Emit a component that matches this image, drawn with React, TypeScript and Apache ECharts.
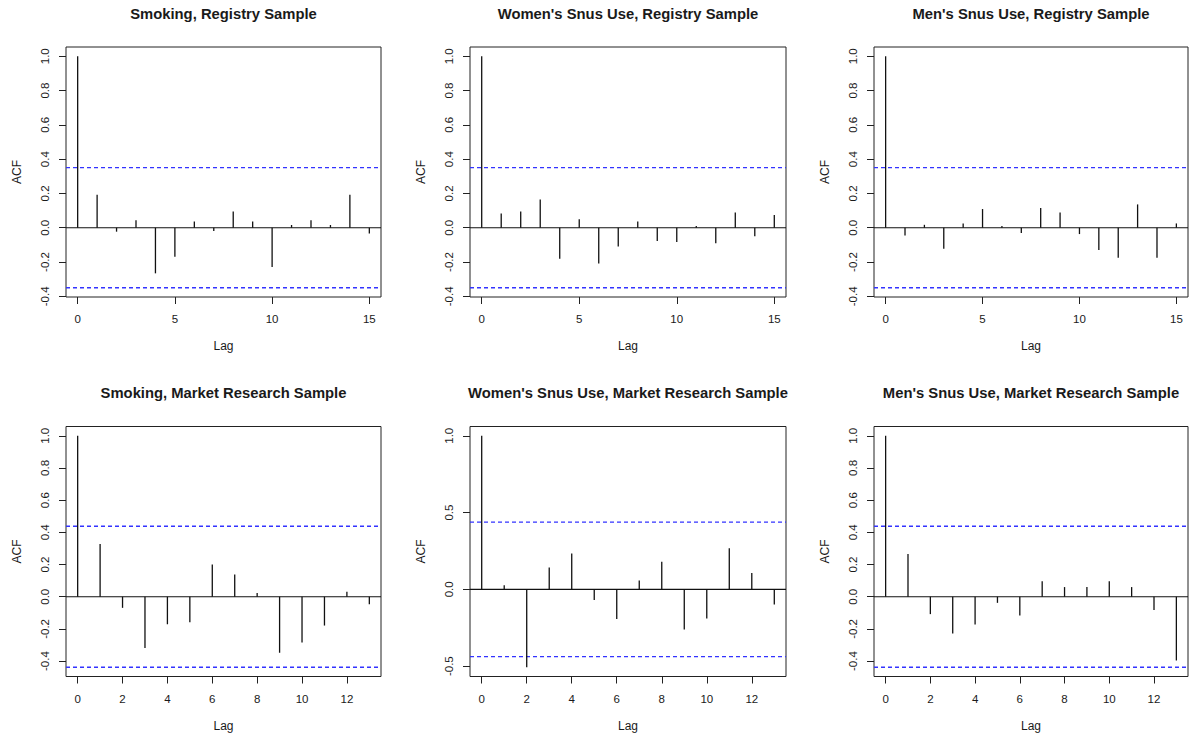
import React, { useEffect, useRef } from "react";
import * as echarts from "echarts";

// ---------- data ----------
const TITLES = [
  "Smoking, Registry Sample",
  "Women's Snus Use, Registry Sample",
  "Men's Snus Use, Registry Sample",
  "Smoking, Market Research Sample",
  "Women's Snus Use, Market Research Sample",
  "Men's Snus Use, Market Research Sample",
];

const LAGS_REGISTRY = [0, 1, 2, 3, 4, 5, 6, 7, 8, 9, 10, 11, 12, 13, 14, 15];
const LAGS_MARKET = [0, 1, 2, 3, 4, 5, 6, 7, 8, 9, 10, 11, 12, 13];

const ACF_SMOKING_REGISTRY = [1.0, 0.192, -0.023, 0.043, -0.266, -0.169, 0.037, -0.019, 0.095, 0.037, -0.229, 0.016, 0.043, 0.016, 0.192, -0.033];
const ACF_WOMEN_REGISTRY = [1.0, 0.083, 0.095, 0.165, -0.181, 0.049, -0.208, -0.109, 0.037, -0.078, -0.083, 0.01, -0.091, 0.089, -0.049, 0.074];
const ACF_MEN_REGISTRY = [1.0, -0.045, 0.017, -0.122, 0.025, 0.109, 0.01, -0.031, 0.115, 0.089, -0.037, -0.13, -0.175, 0.136, -0.175, 0.025];
const ACF_SMOKING_MARKET = [1.0, 0.327, -0.069, -0.319, -0.171, -0.158, 0.2, 0.138, 0.023, -0.348, -0.285, -0.179, 0.031, -0.046];
const ACF_WOMEN_MARKET = [1.0, 0.026, -0.507, 0.143, 0.233, -0.07, -0.193, 0.057, 0.18, -0.261, -0.189, 0.267, 0.107, -0.098];
const ACF_MEN_MARKET = [1.0, 0.265, -0.108, -0.229, -0.173, -0.038, -0.117, 0.096, 0.06, 0.06, 0.096, 0.06, -0.083, -0.396];

const CLIM_REGISTRY = 0.35;
const CLIM_MARKET = 0.438;

const X_TICKS_REGISTRY = [0, 5, 10, 15];
const X_TICKS_MARKET = [0, 2, 4, 6, 8, 10, 12];
const Y_TICKS_FINE = [-0.4, -0.2, 0, 0.2, 0.4, 0.6, 0.8, 1.0];
const Y_TICKS_COARSE = [-0.5, 0, 0.5, 1.0];

const PANELS = [
  { title: TITLES[0], lags: LAGS_REGISTRY, acf: ACF_SMOKING_REGISTRY, clim: CLIM_REGISTRY, xTicks: X_TICKS_REGISTRY, yTicks: Y_TICKS_FINE },
  { title: TITLES[1], lags: LAGS_REGISTRY, acf: ACF_WOMEN_REGISTRY, clim: CLIM_REGISTRY, xTicks: X_TICKS_REGISTRY, yTicks: Y_TICKS_FINE },
  { title: TITLES[2], lags: LAGS_REGISTRY, acf: ACF_MEN_REGISTRY, clim: CLIM_REGISTRY, xTicks: X_TICKS_REGISTRY, yTicks: Y_TICKS_FINE },
  { title: TITLES[3], lags: LAGS_MARKET, acf: ACF_SMOKING_MARKET, clim: CLIM_MARKET, xTicks: X_TICKS_MARKET, yTicks: Y_TICKS_FINE },
  { title: TITLES[4], lags: LAGS_MARKET, acf: ACF_WOMEN_MARKET, clim: CLIM_MARKET, xTicks: X_TICKS_MARKET, yTicks: Y_TICKS_COARSE },
  { title: TITLES[5], lags: LAGS_MARKET, acf: ACF_MEN_MARKET, clim: CLIM_MARKET, xTicks: X_TICKS_MARKET, yTicks: Y_TICKS_FINE },
];

// ---------- layout ----------
const BOXES = [
  { left: 66, top: 47, width: 315, height: 250 },
  { left: 470, top: 47, width: 316, height: 250 },
  { left: 874, top: 47, width: 314, height: 250 },
  { left: 66, top: 426.5, width: 315, height: 250 },
  { left: 470, top: 426.5, width: 316, height: 250 },
  { left: 874, top: 426.5, width: 314, height: 250 },
];

const FONT = "'Liberation Sans', Arial, Helvetica, sans-serif";
const TEXT = "#1a1a1a";
const LINE = "#222";

function buildOption() {
  const grid: any[] = [];
  const xAxis: any[] = [];
  const yAxis: any[] = [];
  const series: any[] = [];
  const title: any[] = [];

  PANELS.forEach((p, i) => {
    const b = BOXES[i];
    const maxLag = p.lags[p.lags.length - 1];
    const xmin = -0.04 * maxLag;
    const xmax = maxLag * 1.04;
    const lo = Math.min(Math.min(...p.acf), -p.clim);
    const hi = Math.max(Math.max(...p.acf), p.clim);
    const ext = (hi - lo) * 0.04;

    grid.push({
      left: b.left,
      top: b.top,
      width: b.width,
      height: b.height,
      show: true,
      borderColor: LINE,
      borderWidth: 1,
      backgroundColor: "transparent",
      containLabel: false,
      outerBoundsMode: "none",
    });

    title.push({
      text: p.title,
      left: b.left + b.width / 2,
      top: i < 3 ? 6 : 385,
      padding: 0,
      textAlign: "center",
      textStyle: { fontFamily: FONT, fontSize: 14.8, fontWeight: "bold", color: TEXT },
    });

    xAxis.push({
      gridIndex: i,
      type: "value",
      min: xmin,
      max: xmax,
      axisLine: { show: false, onZero: false },
      axisTick: { show: true, length: 7, customValues: p.xTicks, lineStyle: { color: LINE, width: 1 } },
      axisLabel: {
        customValues: p.xTicks,
        margin: 16,
        fontSize: 11.5,
        fontFamily: FONT,
        color: TEXT,
        formatter: (v: number) => String(v),
      },
      splitLine: { show: false },
      name: "Lag",
      nameLocation: "middle",
      nameGap: 43,
      nameTextStyle: { fontFamily: FONT, fontSize: 12, color: TEXT },
    });

    yAxis.push({
      gridIndex: i,
      type: "value",
      min: lo - ext,
      max: hi + ext,
      axisLine: { show: false, onZero: false },
      axisTick: { show: true, length: 7, customValues: p.yTicks, lineStyle: { color: LINE, width: 1 } },
      axisLabel: {
        customValues: p.yTicks,
        rotate: 90,
        margin: 15,
        fontSize: 11.5,
        fontFamily: FONT,
        color: TEXT,
        formatter: (v: number) => v.toFixed(1),
      },
      splitLine: { show: false },
      name: "ACF",
      nameLocation: "middle",
      nameGap: 43,
      nameTextStyle: { fontFamily: FONT, fontSize: 12, color: TEXT },
    });

    // confidence bounds
    [p.clim, -p.clim].forEach((c) => {
      series.push({
        type: "line",
        xAxisIndex: i,
        yAxisIndex: i,
        data: [[xmin, c], [xmax, c]],
        symbol: "none",
        silent: true,
        lineStyle: { color: "#3333ff", width: 1.3, type: [4, 3] },
        z: 3,
      });
    });

    // zero line
    series.push({
      type: "line",
      xAxisIndex: i,
      yAxisIndex: i,
      data: [[xmin, 0], [xmax, 0]],
      symbol: "none",
      silent: true,
      lineStyle: { color: "#111", width: 1.2 },
      z: 4,
    });

    // ACF spikes
    series.push({
      type: "custom",
      xAxisIndex: i,
      yAxisIndex: i,
      data: p.lags.map((l, k) => [l, p.acf[k]]),
      encode: { x: 0, y: 1 },
      silent: true,
      z: 5,
      renderItem: (_params: any, api: any) => {
        const lag = api.value(0);
        const v = api.value(1);
        const p0 = api.coord([lag, 0]);
        const p1 = api.coord([lag, v]);
        return {
          type: "line",
          shape: { x1: p0[0], y1: p0[1], x2: p1[0], y2: p1[1] },
          style: { stroke: "#111", lineWidth: 1.3 },
        };
      },
    });
  });

  return {
    animation: false,
    backgroundColor: "#fff",
    title,
    grid,
    xAxis,
    yAxis,
    series,
  };
}

export default function App() {
  const ref = useRef<HTMLDivElement>(null);
  useEffect(() => {
    document.body.style.margin = "0";
    if (!ref.current) return;
    const chart = echarts.init(ref.current, undefined, { renderer: "svg" });
    chart.setOption(buildOption() as any);
    return () => chart.dispose();
  }, []);
  return (
    <div
      ref={ref}
      style={{ position: "absolute", left: 0, top: 0, width: 1189, height: 738, background: "#fff" }}
    />
  );
}
